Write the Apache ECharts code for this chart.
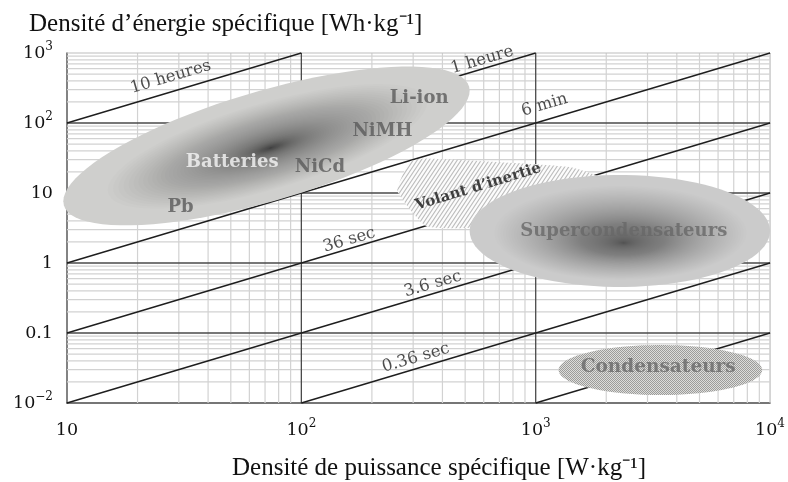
<!DOCTYPE html>
<html>
<head>
<meta charset="utf-8">
<title>Diagramme de Ragone</title>
<script src="https://cdn.jsdelivr.net/npm/echarts@6/dist/echarts.min.js"></script>
<style>
  html, body { margin: 0; padding: 0; background: #fff; }
  #chart { width: 788px; height: 482px; }
</style>
</head>
<body>
<div id="chart"></div>
<script>
// --- axes (W/kg en x, Wh/kg en y)
const xTicks = [10, 100, 1000, 10000]
const xTickLabels = ['10', '10²', '10³', '10⁴']
const yTicks = [0.01, 0.1, 1, 10, 100, 1000]
const yTickLabels = ['10⁻²', '0.1', '1', '10', '10²', '10³']

// --- droites d'iso-temps (debut / fin)
const timeLineStart = [[10, 100], [10, 10], [10, 1], [10, 0.1], [10, 0.01], [100, 0.01], [1000, 0.01]]
const timeLineEnd = [[100, 1000], [1000, 1000], [10000, 1000], [10000, 100], [10000, 10], [10000, 1], [10000, 0.1]]
const timeNames = ['10 heures', '1 heure', '6 min', '36 sec', '3.6 sec', '0.36 sec']
const timeNamePos = [[27.7, 454], [591, 794], [1091, 181], [160, 2.13], [364, 0.5], [308, 0.044]]

// --- zones (ellipses : centre, bout du grand axe, bout du petit axe, point le plus sombre)
const zoneNames = ['Batteries', 'Supercondensateurs', 'Condensateurs']
const zoneCenter = [[71, 47], [2286, 2.87], [3404, 0.0296]]
const zoneMajor = [[520, 330], [10000, 2.87], [9250, 0.0296]]
const zoneMinor = [[61.5, 268], [2286, 18.1], [3404, 0.0674]]
const zoneCore = [[74, 44], [2375, 1.93], [3404, 0.0296]]

// volant d'inertie (contour)
const flywheelOutline = [[257, 10.7], [290, 28], [340, 31], [1391, 23.5], [1900, 16], [1462, 4.85], [501, 3.16], [340, 3.38]]

// --- etiquettes des technologies
const techNames = ['Batteries', 'NiCd', 'Pb', 'NiMH', 'Li-ion', 'Volant d’inertie', 'Supercondensateurs', 'Condensateurs']
const techPos = [[50.7, 27.7], [120, 23.5], [30.5, 6.3], [222, 76.9], [318, 228], [569, 12.2], [2375, 2.87], [3335, 0.0327]]

const X_MIN = 10, X_MAX = 10000, Y_MIN = 0.01, Y_MAX = 1000
const lg = Math.log10

// exposants en texte enrichi
const SUP = { '²': '2', '³': '3', '⁴': '4', '⁻': '−' }
function richTick (label) {
  const chars = [...label]
  const i = chars.findIndex(ch => SUP[ch])
  if (i < 0) return '{b|' + label + '}'
  return '{b|' + chars.slice(0, i).join('') + '}{s|' + chars.slice(i).map(ch => SUP[ch]).join('') + '}'
}
const tickRich = {
  b: { fontFamily: 'DejaVu Serif', fontSize: 17.5, color: '#111', lineHeight: 24 },
  s: { fontFamily: 'DejaVu Serif', fontSize: 12, color: '#111', lineHeight: 14, verticalAlign: 'top' }
}

// motifs
function hatchPattern () {
  const w = 4, h = 6
  const c = document.createElement('canvas')
  c.width = w
  c.height = h
  const g = c.getContext('2d')
  g.fillStyle = '#fcfcfc'
  g.fillRect(0, 0, w, h)
  g.strokeStyle = '#bdbdbd'
  g.lineWidth = 1.1
  g.beginPath()
  g.moveTo(-w, 2 * h); g.lineTo(2 * w, -h)
  g.moveTo(-2 * w, 2 * h); g.lineTo(w, -h)
  g.moveTo(0, 2 * h); g.lineTo(3 * w, -h)
  g.stroke()
  return c
}
function dotPattern () {
  const c = document.createElement('canvas')
  c.width = 2
  c.height = 2
  const g = c.getContext('2d')
  g.fillStyle = '#dcdcda'
  g.fillRect(0, 0, 2, 2)
  g.fillStyle = '#9c9c9a'
  g.fillRect(0, 0, 1, 1)
  g.fillRect(1, 1, 1, 1)
  return c
}

// grille (majeures + mineures)
const gridItems = []
xTicks.forEach((t, i) => {
  if (i < xTicks.length - 1) {
    for (let m = 2; m <= 9; m++) gridItems.push([t * m, Y_MIN, 0, 0])
  }
  if (i > 0) gridItems.push([t, Y_MIN, 0, i === xTicks.length - 1 ? 2 : 1])
})
yTicks.forEach((t, i) => {
  if (i < yTicks.length - 1) {
    for (let m = 2; m <= 9; m++) gridItems.push([X_MIN, t * m, 1, 0])
  }
  if (i > 0) gridItems.push([X_MIN, t, 1, i === yTicks.length - 1 ? 2 : 1])
})
const gridStyles = [
  { stroke: '#d2d2d2', lineWidth: 1.2 },
  { stroke: '#4a4a4a', lineWidth: 1.3 },
  { stroke: '#bdbdbd', lineWidth: 1.2 }
]

function ellipsePoints (api, i, s) {
  const c = zoneCenter[i], m = zoneMajor[i], n = zoneMinor[i], k = zoneCore[i]
  const cx = lg(c[0]) + (lg(k[0]) - lg(c[0])) * (1 - s)
  const cy = lg(c[1]) + (lg(k[1]) - lg(c[1])) * (1 - s)
  const ux = lg(m[0]) - lg(c[0]), uy = lg(m[1]) - lg(c[1])
  const vx = lg(n[0]) - lg(c[0]), vy = lg(n[1]) - lg(c[1])
  const pts = []
  for (let j = 0; j < 90; j++) {
    const t = j / 90 * Math.PI * 2
    const lx = cx + s * (Math.cos(t) * ux + Math.sin(t) * vx)
    const ly = cy + s * (Math.cos(t) * uy + Math.sin(t) * vy)
    pts.push(api.coord([Math.pow(10, lx), Math.pow(10, ly)]))
  }
  return pts
}

const zoneStyle = [
  { base: '#cfcfcd', layers: 90, alpha: 0.0125, smax: 0.8, pow: 3 },
  { base: '#cbcbcb', layers: 90, alpha: 0.0085, smax: 0.85, pow: 2 },
  { base: null, layers: 0 }
]

const techLabelStyle = [
  { color: '#f6f6f6', fontSize: 18 },
  { color: '#5a5a5a', fontSize: 18 },
  { color: '#5a5a5a', fontSize: 18 },
  { color: '#5a5a5a', fontSize: 18 },
  { color: '#5a5a5a', fontSize: 18 },
  { color: '#141414', fontSize: 15, rotate: 17 },
  { color: '#686868', fontSize: 18 },
  { color: '#686868', fontSize: 18.5 }
]

const chart = echarts.init(document.getElementById('chart'))

const option = {
  animation: false,
  backgroundColor: '#fff',
  title: [
    {
      text: 'Densité d’énergie spécifique [Wh·kg⁻¹]',
      left: 24,
      top: 7,
      textStyle: { fontFamily: 'Liberation Serif', fontWeight: 'normal', fontSize: 25, color: '#111' }
    },
    {
      text: 'Densité de puissance spécifique [W·kg⁻¹]',
      left: 227,
      top: 451,
      textStyle: { fontFamily: 'Liberation Serif', fontWeight: 'normal', fontSize: 25, color: '#111' }
    }
  ],
  grid: { left: 67, right: 10, top: 53, bottom: 79, containLabel: false },
  xAxis: {
    type: 'log',
    logBase: 10,
    min: X_MIN,
    max: X_MAX,
    axisLine: { show: true, onZero: false, lineStyle: { color: '#4a4a4a', width: 1.5 } },
    axisTick: { show: false },
    splitLine: { show: false },
    axisLabel: {
      margin: 15,
      rich: tickRich,
      formatter: v => {
        const i = xTicks.findIndex(t => Math.abs(lg(t) - lg(v)) < 1e-6)
        return i >= 0 ? richTick(xTickLabels[i]) : ''
      }
    }
  },
  yAxis: {
    type: 'log',
    logBase: 10,
    min: Y_MIN,
    max: Y_MAX,
    axisLine: { show: true, onZero: false, lineStyle: { color: '#5a5a5a', width: 1.5 } },
    axisTick: { show: false },
    splitLine: { show: false },
    axisLabel: {
      margin: 14,
      rich: tickRich,
      formatter: v => {
        const i = yTicks.findIndex(t => Math.abs(lg(t) - lg(v)) < 1e-6)
        return i >= 0 ? richTick(yTickLabels[i]) : ''
      }
    }
  },
  series: [
    {
      // grille
      type: 'custom',
      z: 1,
      silent: true,
      data: gridItems,
      renderItem: (params, api) => {
        const v = gridItems[params.dataIndex]
        let p1, p2
        if (v[2] === 0) {
          p1 = api.coord([v[0], Y_MIN]); p2 = api.coord([v[0], Y_MAX])
        } else {
          p1 = api.coord([X_MIN, v[1]]); p2 = api.coord([X_MAX, v[1]])
        }
        return {
          type: 'line',
          z2: v[3] === 1 ? 2 : 1,
          shape: { x1: p1[0], y1: p1[1], x2: p2[0], y2: p2[1] },
          style: gridStyles[v[3]]
        }
      }
    },
    {
      // droites d'iso-temps
      type: 'custom',
      z: 2,
      silent: true,
      data: timeLineStart.map((s, i) => [s[0], s[1], timeLineEnd[i][0], timeLineEnd[i][1]]),
      encode: { x: [0, 2], y: [1, 3] },
      renderItem: (params, api) => {
        const p1 = api.coord([api.value(0), api.value(1)])
        const p2 = api.coord([api.value(2), api.value(3)])
        return {
          type: 'line',
          shape: { x1: p1[0], y1: p1[1], x2: p2[0], y2: p2[1] },
          style: { stroke: '#1e1e1e', lineWidth: 1.4 }
        }
      }
    },
    {
      // volant d'inertie
      type: 'custom',
      z: 3,
      silent: true,
      data: [0],
      renderItem: (params, api) => ({
        type: 'polygon',
        shape: { points: flywheelOutline.map(p => api.coord(p)), smooth: 0.15 },
        style: { fill: { image: hatchPattern(), repeat: 'repeat' }, stroke: null }
      })
    },
    {
      // zones elliptiques
      type: 'custom',
      z: 4,
      silent: true,
      data: zoneNames.map((n, i) => [zoneCenter[i][0], zoneCenter[i][1], i]),
      renderItem: (params, api) => {
        const i = params.dataIndex
        const st = zoneStyle[i]
        const children = [{
          type: 'polygon',
          shape: { points: ellipsePoints(api, i, 1) },
          style: { fill: st.base || { image: dotPattern(), repeat: 'repeat' } }
        }]
        for (let k = 0; k < st.layers; k++) {
          const s = st.smax * Math.pow((st.layers - k - 0.5) / st.layers, st.pow)
          children.push({
            type: 'polygon',
            shape: { points: ellipsePoints(api, i, s) },
            style: { fill: 'rgba(25,25,25,' + st.alpha + ')' }
          })
        }
        return { type: 'group', children }
      }
    },
    {
      // noms des durees
      type: 'scatter',
      z: 5,
      silent: true,
      symbolSize: 0,
      data: timeNamePos.map((p, i) => ({ value: p, name: timeNames[i] })),
      label: {
        show: true,
        position: 'inside',
        formatter: p => p.name,
        rotate: 16.4,
        fontFamily: 'DejaVu Serif',
        fontSize: 16.5,
        color: '#222'
      }
    },
    {
      // noms des technologies
      type: 'scatter',
      z: 6,
      silent: true,
      symbolSize: 0,
      data: techPos.map((p, i) => ({
        value: p,
        name: techNames[i],
        label: Object.assign({}, techLabelStyle[i])
      })),
      label: {
        show: true,
        position: 'inside',
        formatter: p => p.name,
        fontFamily: 'DejaVu Serif',
        fontWeight: 'bold'
      }
    }
  ]
}

chart.setOption(option)
</script>
</body>
</html>
